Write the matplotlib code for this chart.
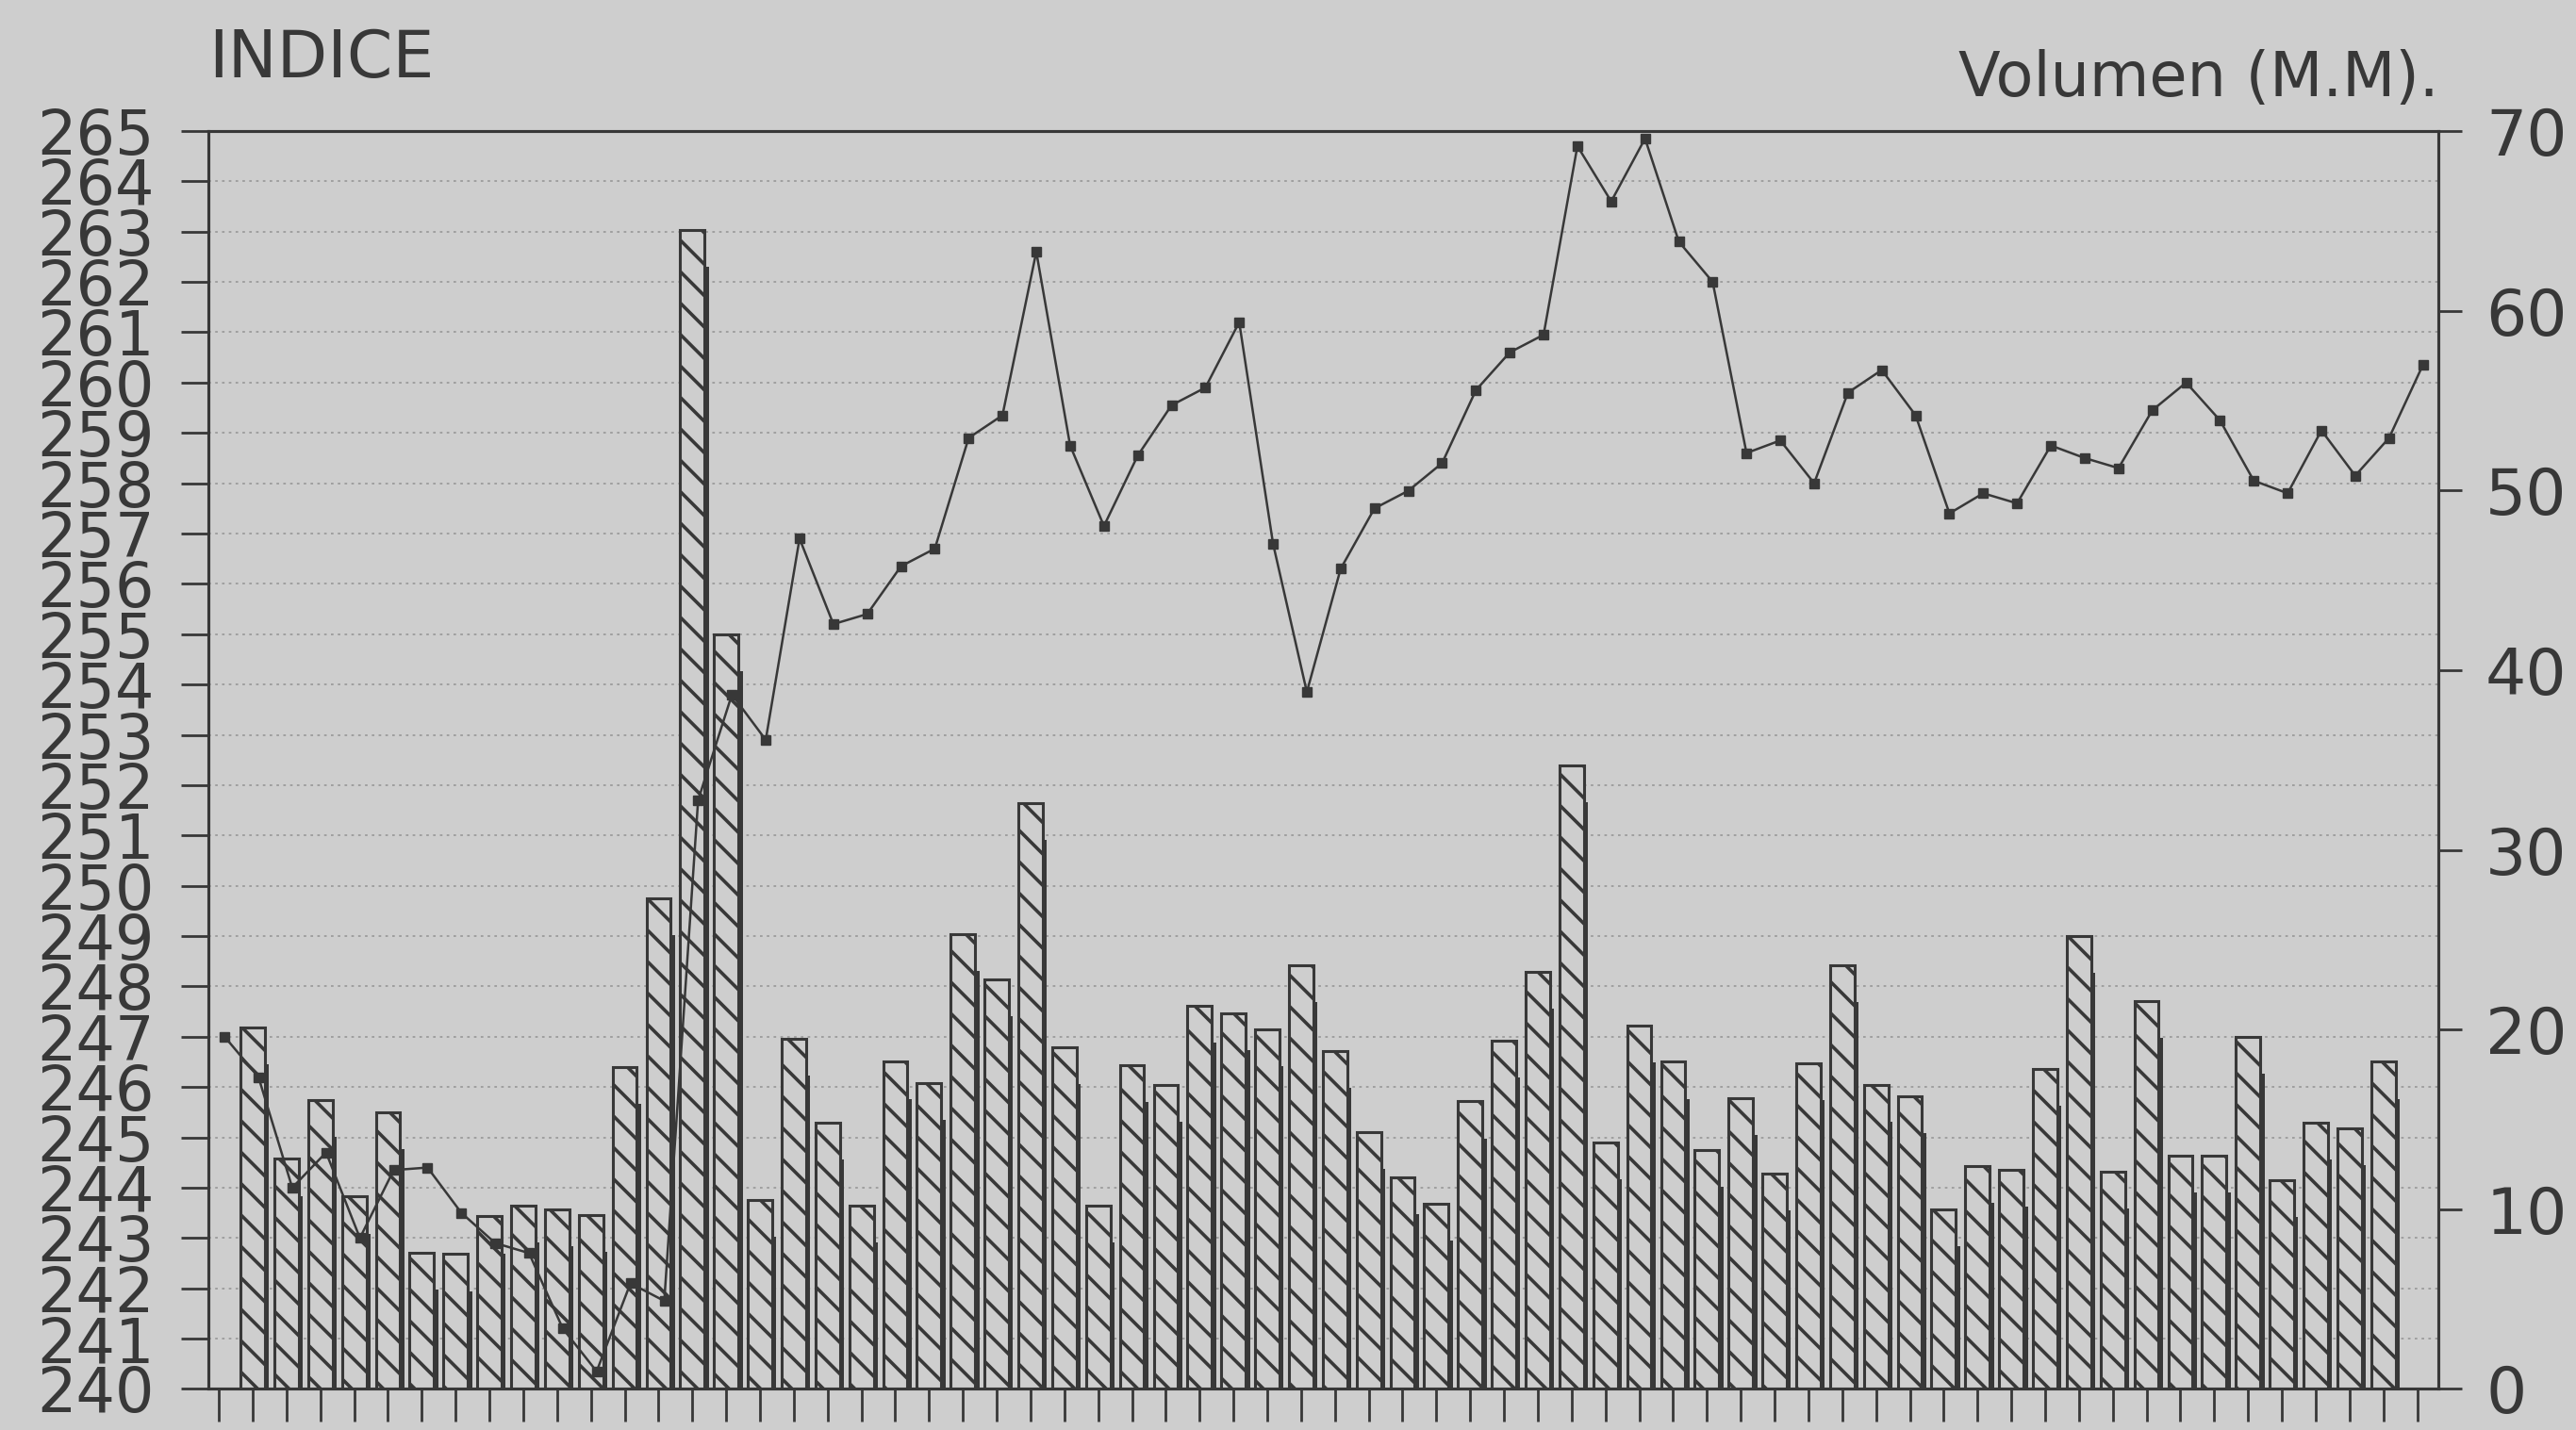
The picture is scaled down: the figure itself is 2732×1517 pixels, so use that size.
import numpy as np
import matplotlib
matplotlib.use("Agg")
import matplotlib.pyplot as plt

# ---------------- data ----------------
indice = [247.0, 246.2, 244.0, 244.7, 243.0, 244.35, 244.4, 243.5, 242.9, 242.7,
          241.2, 240.35, 242.1, 241.75, 251.7, 253.8, 252.9, 256.9, 255.2, 255.4,
          256.35, 256.7, 258.9, 259.35, 262.6, 258.75, 257.15, 258.55, 259.55, 259.9,
          261.2, 256.8, 253.85, 256.3, 257.5, 257.85, 258.4, 259.85, 260.6, 260.95,
          264.7, 263.6, 264.85, 262.8, 262.0, 258.6, 258.85, 258.0, 259.8, 260.25,
          259.35, 257.4, 257.8, 257.6, 258.75, 258.5, 258.3, 259.45, 260.0, 259.25,
          258.05, 257.8, 259.05, 258.15, 258.9, 260.35]

volumen = [20.1, 12.8, 16.1, 10.7, 15.4, 7.6, 7.5, 9.6, 10.2, 10.0,
           9.7, 17.9, 27.3, 64.5, 42.0, 10.5, 19.5, 14.8, 10.2, 18.2,
           17.0, 25.3, 22.8, 32.6, 19.0, 10.2, 18.0, 16.9, 21.3, 20.9,
           20.0, 23.6, 18.8, 14.3, 11.8, 10.3, 16.0, 19.4, 23.2, 34.7,
           13.7, 20.2, 18.2, 13.3, 16.2, 12.0, 18.1, 23.6, 16.9, 16.3,
           10.0, 12.4, 12.2, 17.8, 25.2, 12.1, 21.6, 13.0, 13.0, 19.6,
           11.6, 14.8, 14.5, 18.2]

left_ticks = list(range(240, 266))
right_ticks = [0, 10, 20, 30, 40, 50, 60, 70]
titulo_izq = "INDICE"
titulo_der = "Volumen (M.M)."

# ---------------- style ----------------
bg = "#cecece"
ink = "#383838"
grid_c = "#9c9c9c"
plt.rcParams["font.family"] = ["DejaVu Sans"]
plt.rcParams["hatch.linewidth"] = 2.6
plt.rcParams["hatch.color"] = ink

fig = plt.figure(figsize=(27.32, 15.17), dpi=100, facecolor=bg)
ax2 = fig.add_axes([0.0809, 0.0287, 0.8657, 0.8797])   # volume (right)
ax = fig.add_axes(ax2.get_position(), sharex=ax2)      # index (left)
ax.patch.set_visible(False)
ax.set_zorder(ax2.get_zorder() + 1)
ax2.set_facecolor(bg)

n_pts = len(indice)
x_line = np.arange(n_pts) + 0.17
x_bar = np.arange(1, len(volumen) + 1)
vol = np.array(volumen)

ax2.set_ylim(0, 70)
ax.set_ylim(240, 265)
ax.set_xlim(-0.31, n_pts - 1 + 0.63)

# dotted gridlines at each index unit (drawn on the volume axis, behind bars)
for k in left_ticks[1:-1]:
    yv = (k - 240) / 25 * 70
    ax2.axhline(yv, color=grid_c, lw=1.3, ls=(0, (1.5, 2.5)), zorder=0)

# shadow strip + hatched bars
bw = 0.72
ax2.bar(x_bar + bw / 2 + 0.06, np.clip(vol - 2.05, 0, None), width=0.13,
        color=ink, edgecolor="none", zorder=2)
ax2.bar(x_bar, vol, width=bw, facecolor=bg, edgecolor=ink, hatch="\\",
        linewidth=2.2, zorder=3)

# index line
ax.plot(x_line, indice, color=ink, lw=1.8, marker="s", markersize=7.5,
        markerfacecolor=ink, markeredgecolor=ink, zorder=5, clip_on=False)

# axes / ticks
for a in (ax, ax2):
    for s in a.spines.values():
        s.set_color(ink)
        s.set_linewidth(2.2)

ax.yaxis.tick_left()
ax.set_yticks(left_ticks)
ax.set_yticklabels([str(v) for v in left_ticks])
ax.tick_params(axis="y", which="major", direction="out", length=21, width=2,
               color=ink, labelsize=47, labelcolor=ink, pad=20,
               left=True, right=False, labelleft=True, labelright=False)

ax2.yaxis.tick_right()
ax2.set_yticks(right_ticks)
ax2.set_yticklabels([str(v) for v in right_ticks])
ax2.tick_params(axis="y", direction="out", length=18, width=2, color=ink,
                labelsize=49, labelcolor=ink, pad=18,
                right=True, left=False, labelright=True, labelleft=False)

ax2.set_xticks(np.arange(n_pts))
ax2.set_xticklabels([])
ax2.tick_params(axis="x", direction="out", length=25, width=2, color=ink)
ax.tick_params(axis="x", bottom=False, labelbottom=False)

fig.text(0.0809, 0.959, titulo_izq, fontsize=50, color=ink, ha="left", va="center")
fig.text(0.9466, 0.9446, titulo_der, fontsize=47, color=ink, ha="right", va="center")

fig.savefig("out.png", dpi=100, facecolor=bg)
